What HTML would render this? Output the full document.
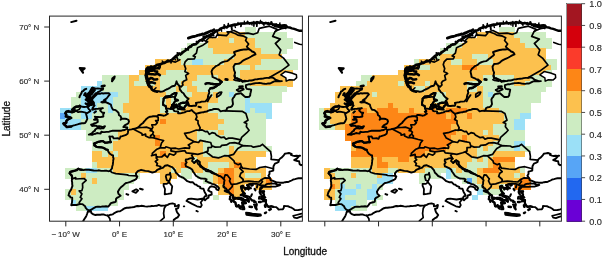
<!DOCTYPE html><html><head><meta charset="utf-8"><title>map</title><style>html,body{margin:0;padding:0;background:#fff}body{width:602px;height:258px;overflow:hidden}</style></head><body><svg width="602" height="258" viewBox="0 0 602 258" style="display:block;filter:blur(0.35px)">
<rect width="602" height="258" fill="#fff"/>
<defs><clipPath id="c1"><rect x="49.5" y="16.1" width="252.89999999999998" height="205.1"/></clipPath><clipPath id="c2"><rect x="308.5" y="16.1" width="252.89999999999998" height="205.1"/></clipPath></defs>
<g shape-rendering="crispEdges"><rect x="244.83" y="26.70" width="10.86" height="5.72" fill="#cdecc2"/>
<rect x="218.44" y="32.12" width="26.69" height="5.72" fill="#fcc14e"/>
<rect x="244.83" y="32.12" width="42.52" height="5.72" fill="#cdecc2"/>
<rect x="207.88" y="37.54" width="21.41" height="5.72" fill="#fcc14e"/>
<rect x="229.00" y="37.54" width="5.58" height="5.72" fill="#cdecc2"/>
<rect x="234.27" y="37.54" width="21.41" height="5.72" fill="#fcc14e"/>
<rect x="255.39" y="37.54" width="37.25" height="5.72" fill="#cdecc2"/>
<rect x="186.77" y="42.96" width="21.41" height="5.72" fill="#cdecc2"/>
<rect x="207.88" y="42.96" width="47.80" height="5.72" fill="#fcc14e"/>
<rect x="255.39" y="42.96" width="37.25" height="5.72" fill="#cdecc2"/>
<rect x="181.49" y="48.38" width="31.97" height="5.72" fill="#cdecc2"/>
<rect x="213.16" y="48.38" width="47.80" height="5.72" fill="#fcc14e"/>
<rect x="260.66" y="48.38" width="26.69" height="5.72" fill="#cdecc2"/>
<rect x="176.22" y="53.80" width="58.36" height="5.72" fill="#cdecc2"/>
<rect x="234.27" y="53.80" width="47.80" height="5.72" fill="#fcc14e"/>
<rect x="155.10" y="59.22" width="26.69" height="5.72" fill="#fcc14e"/>
<rect x="181.49" y="59.22" width="10.86" height="5.72" fill="#cdecc2"/>
<rect x="192.05" y="59.22" width="10.86" height="5.72" fill="#9be0f7"/>
<rect x="202.61" y="59.22" width="21.41" height="5.72" fill="#cdecc2"/>
<rect x="223.72" y="59.22" width="37.25" height="5.72" fill="#fcc14e"/>
<rect x="260.66" y="59.22" width="37.25" height="5.72" fill="#cdecc2"/>
<rect x="144.55" y="64.64" width="90.03" height="5.72" fill="#fcc14e"/>
<rect x="234.27" y="64.64" width="16.13" height="5.72" fill="#cdecc2"/>
<rect x="250.11" y="64.64" width="5.58" height="5.72" fill="#fcc14e"/>
<rect x="255.39" y="64.64" width="42.52" height="5.72" fill="#cdecc2"/>
<rect x="139.27" y="70.06" width="26.69" height="5.72" fill="#fcc14e"/>
<rect x="165.66" y="70.06" width="21.41" height="5.72" fill="#cdecc2"/>
<rect x="186.77" y="70.06" width="47.80" height="5.72" fill="#fcc14e"/>
<rect x="234.27" y="70.06" width="5.58" height="5.72" fill="#cdecc2"/>
<rect x="239.55" y="70.06" width="53.08" height="5.72" fill="#fcc14e"/>
<rect x="102.32" y="75.48" width="26.69" height="5.72" fill="#cdecc2"/>
<rect x="128.71" y="75.48" width="10.86" height="5.72" fill="#fcc14e"/>
<rect x="139.27" y="75.48" width="5.58" height="5.72" fill="#cdecc2"/>
<rect x="144.55" y="75.48" width="16.13" height="5.72" fill="#fcc14e"/>
<rect x="160.38" y="75.48" width="26.69" height="5.72" fill="#cdecc2"/>
<rect x="186.77" y="75.48" width="10.86" height="5.72" fill="#fcc14e"/>
<rect x="197.33" y="75.48" width="21.41" height="5.72" fill="#cdecc2"/>
<rect x="218.44" y="75.48" width="16.13" height="5.72" fill="#fcc14e"/>
<rect x="234.27" y="75.48" width="5.58" height="5.72" fill="#cdecc2"/>
<rect x="239.55" y="75.48" width="53.08" height="5.72" fill="#fcc14e"/>
<rect x="97.05" y="80.90" width="5.58" height="5.72" fill="#9be0f7"/>
<rect x="102.32" y="80.90" width="26.69" height="5.72" fill="#cdecc2"/>
<rect x="128.71" y="80.90" width="5.58" height="5.72" fill="#fcc14e"/>
<rect x="133.99" y="80.90" width="21.41" height="5.72" fill="#cdecc2"/>
<rect x="155.10" y="80.90" width="5.58" height="5.72" fill="#fcc14e"/>
<rect x="160.38" y="80.90" width="21.41" height="5.72" fill="#cdecc2"/>
<rect x="181.49" y="80.90" width="10.86" height="5.72" fill="#fcc14e"/>
<rect x="192.05" y="80.90" width="58.36" height="5.72" fill="#cdecc2"/>
<rect x="250.11" y="80.90" width="42.52" height="5.72" fill="#fcc14e"/>
<rect x="81.21" y="86.32" width="21.41" height="5.72" fill="#9be0f7"/>
<rect x="102.32" y="86.32" width="26.69" height="5.72" fill="#cdecc2"/>
<rect x="128.71" y="86.32" width="31.97" height="5.72" fill="#fcc14e"/>
<rect x="160.38" y="86.32" width="16.13" height="5.72" fill="#cdecc2"/>
<rect x="176.22" y="86.32" width="5.58" height="5.72" fill="#fcc14e"/>
<rect x="181.49" y="86.32" width="5.58" height="5.72" fill="#cdecc2"/>
<rect x="186.77" y="86.32" width="10.86" height="5.72" fill="#fcc14e"/>
<rect x="197.33" y="86.32" width="90.03" height="5.72" fill="#cdecc2"/>
<rect x="75.93" y="91.74" width="5.58" height="5.72" fill="#cdecc2"/>
<rect x="81.21" y="91.74" width="37.25" height="5.72" fill="#9be0f7"/>
<rect x="118.16" y="91.74" width="10.86" height="5.72" fill="#cdecc2"/>
<rect x="128.71" y="91.74" width="37.25" height="5.72" fill="#fcc14e"/>
<rect x="165.66" y="91.74" width="26.69" height="5.72" fill="#cdecc2"/>
<rect x="192.05" y="91.74" width="16.13" height="5.72" fill="#fcc14e"/>
<rect x="207.88" y="91.74" width="5.58" height="5.72" fill="#cdecc2"/>
<rect x="213.16" y="91.74" width="5.58" height="5.72" fill="#fcc14e"/>
<rect x="218.44" y="91.74" width="10.86" height="5.72" fill="#cdecc2"/>
<rect x="229.00" y="91.74" width="5.58" height="5.72" fill="#9be0f7"/>
<rect x="234.27" y="91.74" width="47.80" height="5.72" fill="#cdecc2"/>
<rect x="70.66" y="97.16" width="10.86" height="5.72" fill="#cdecc2"/>
<rect x="81.21" y="97.16" width="31.97" height="5.72" fill="#9be0f7"/>
<rect x="112.88" y="97.16" width="16.13" height="5.72" fill="#cdecc2"/>
<rect x="128.71" y="97.16" width="31.97" height="5.72" fill="#fcc14e"/>
<rect x="160.38" y="97.16" width="5.58" height="5.72" fill="#cdecc2"/>
<rect x="165.66" y="97.16" width="5.58" height="5.72" fill="#fcc14e"/>
<rect x="170.94" y="97.16" width="16.13" height="5.72" fill="#cdecc2"/>
<rect x="186.77" y="97.16" width="31.97" height="5.72" fill="#fcc14e"/>
<rect x="218.44" y="97.16" width="26.69" height="5.72" fill="#cdecc2"/>
<rect x="244.83" y="97.16" width="5.58" height="5.72" fill="#9be0f7"/>
<rect x="250.11" y="97.16" width="31.97" height="5.72" fill="#cdecc2"/>
<rect x="70.66" y="102.58" width="10.86" height="5.72" fill="#cdecc2"/>
<rect x="81.21" y="102.58" width="16.13" height="5.72" fill="#9be0f7"/>
<rect x="97.05" y="102.58" width="10.86" height="5.72" fill="#cdecc2"/>
<rect x="107.60" y="102.58" width="5.58" height="5.72" fill="#9be0f7"/>
<rect x="112.88" y="102.58" width="10.86" height="5.72" fill="#cdecc2"/>
<rect x="123.44" y="102.58" width="37.25" height="5.72" fill="#fcc14e"/>
<rect x="160.38" y="102.58" width="5.58" height="5.72" fill="#cdecc2"/>
<rect x="165.66" y="102.58" width="5.58" height="5.72" fill="#fcc14e"/>
<rect x="170.94" y="102.58" width="16.13" height="5.72" fill="#cdecc2"/>
<rect x="186.77" y="102.58" width="21.41" height="5.72" fill="#fcc14e"/>
<rect x="207.88" y="102.58" width="37.25" height="5.72" fill="#cdecc2"/>
<rect x="244.83" y="102.58" width="26.69" height="5.72" fill="#9be0f7"/>
<rect x="60.10" y="108.00" width="10.86" height="5.72" fill="#9be0f7"/>
<rect x="70.66" y="108.00" width="10.86" height="5.72" fill="#cdecc2"/>
<rect x="81.21" y="108.00" width="16.13" height="5.72" fill="#9be0f7"/>
<rect x="97.05" y="108.00" width="10.86" height="5.72" fill="#cdecc2"/>
<rect x="107.60" y="108.00" width="5.58" height="5.72" fill="#9be0f7"/>
<rect x="112.88" y="108.00" width="10.86" height="5.72" fill="#cdecc2"/>
<rect x="123.44" y="108.00" width="37.25" height="5.72" fill="#fcc14e"/>
<rect x="160.38" y="108.00" width="21.41" height="5.72" fill="#cdecc2"/>
<rect x="181.49" y="108.00" width="26.69" height="5.72" fill="#fcc14e"/>
<rect x="207.88" y="108.00" width="37.25" height="5.72" fill="#cdecc2"/>
<rect x="244.83" y="108.00" width="5.58" height="5.72" fill="#9be0f7"/>
<rect x="250.11" y="108.00" width="5.58" height="5.72" fill="#cdecc2"/>
<rect x="255.39" y="108.00" width="16.13" height="5.72" fill="#9be0f7"/>
<rect x="60.10" y="113.42" width="5.58" height="5.72" fill="#57a5f6"/>
<rect x="65.38" y="113.42" width="5.58" height="5.72" fill="#9be0f7"/>
<rect x="70.66" y="113.42" width="10.86" height="5.72" fill="#cdecc2"/>
<rect x="81.21" y="113.42" width="10.86" height="5.72" fill="#9be0f7"/>
<rect x="91.77" y="113.42" width="37.25" height="5.72" fill="#cdecc2"/>
<rect x="128.71" y="113.42" width="90.03" height="5.72" fill="#fcc14e"/>
<rect x="218.44" y="113.42" width="47.80" height="5.72" fill="#cdecc2"/>
<rect x="265.94" y="113.42" width="5.58" height="5.72" fill="#9be0f7"/>
<rect x="60.10" y="118.84" width="21.41" height="5.72" fill="#9be0f7"/>
<rect x="81.21" y="118.84" width="47.80" height="5.72" fill="#cdecc2"/>
<rect x="128.71" y="118.84" width="31.97" height="5.72" fill="#fcc14e"/>
<rect x="160.38" y="118.84" width="5.58" height="5.72" fill="#fd8616"/>
<rect x="165.66" y="118.84" width="58.36" height="5.72" fill="#fcc14e"/>
<rect x="223.72" y="118.84" width="42.52" height="5.72" fill="#cdecc2"/>
<rect x="60.10" y="124.26" width="21.41" height="5.72" fill="#9be0f7"/>
<rect x="81.21" y="124.26" width="47.80" height="5.72" fill="#cdecc2"/>
<rect x="128.71" y="124.26" width="90.03" height="5.72" fill="#fcc14e"/>
<rect x="218.44" y="124.26" width="47.80" height="5.72" fill="#cdecc2"/>
<rect x="86.49" y="129.68" width="31.97" height="5.72" fill="#cdecc2"/>
<rect x="118.16" y="129.68" width="79.47" height="5.72" fill="#fcc14e"/>
<rect x="197.33" y="129.68" width="21.41" height="5.72" fill="#cdecc2"/>
<rect x="218.44" y="129.68" width="5.58" height="5.72" fill="#fcc14e"/>
<rect x="223.72" y="129.68" width="42.52" height="5.72" fill="#cdecc2"/>
<rect x="86.49" y="135.10" width="31.97" height="5.72" fill="#cdecc2"/>
<rect x="118.16" y="135.10" width="37.25" height="5.72" fill="#fcc14e"/>
<rect x="155.10" y="135.10" width="5.58" height="5.72" fill="#fd8616"/>
<rect x="160.38" y="135.10" width="37.25" height="5.72" fill="#fcc14e"/>
<rect x="197.33" y="135.10" width="68.91" height="5.72" fill="#cdecc2"/>
<rect x="91.77" y="140.52" width="21.41" height="5.72" fill="#cdecc2"/>
<rect x="112.88" y="140.52" width="42.52" height="5.72" fill="#fcc14e"/>
<rect x="155.10" y="140.52" width="5.58" height="5.72" fill="#fd8616"/>
<rect x="160.38" y="140.52" width="42.52" height="5.72" fill="#fcc14e"/>
<rect x="202.61" y="140.52" width="63.64" height="5.72" fill="#cdecc2"/>
<rect x="91.77" y="145.94" width="21.41" height="5.72" fill="#cdecc2"/>
<rect x="112.88" y="145.94" width="90.03" height="5.72" fill="#fcc14e"/>
<rect x="202.61" y="145.94" width="26.69" height="5.72" fill="#cdecc2"/>
<rect x="229.00" y="145.94" width="5.58" height="5.72" fill="#fcc14e"/>
<rect x="234.27" y="145.94" width="37.25" height="5.72" fill="#cdecc2"/>
<rect x="91.77" y="151.36" width="10.86" height="5.72" fill="#fcc14e"/>
<rect x="102.32" y="151.36" width="5.58" height="5.72" fill="#cdecc2"/>
<rect x="107.60" y="151.36" width="5.58" height="5.72" fill="#fcc14e"/>
<rect x="112.88" y="151.36" width="5.58" height="5.72" fill="#cdecc2"/>
<rect x="118.16" y="151.36" width="42.52" height="5.72" fill="#fcc14e"/>
<rect x="160.38" y="151.36" width="5.58" height="5.72" fill="#fd8616"/>
<rect x="165.66" y="151.36" width="37.25" height="5.72" fill="#fcc14e"/>
<rect x="202.61" y="151.36" width="26.69" height="5.72" fill="#cdecc2"/>
<rect x="229.00" y="151.36" width="37.25" height="5.72" fill="#fcc14e"/>
<rect x="91.77" y="156.78" width="100.58" height="5.72" fill="#fcc14e"/>
<rect x="192.05" y="156.78" width="5.58" height="5.72" fill="#cdecc2"/>
<rect x="197.33" y="156.78" width="58.36" height="5.72" fill="#fcc14e"/>
<rect x="91.77" y="162.20" width="5.58" height="5.72" fill="#cdecc2"/>
<rect x="97.05" y="162.20" width="84.75" height="5.72" fill="#fcc14e"/>
<rect x="181.49" y="162.20" width="5.58" height="5.72" fill="#fd8616"/>
<rect x="186.77" y="162.20" width="21.41" height="5.72" fill="#fcc14e"/>
<rect x="207.88" y="162.20" width="21.41" height="5.72" fill="#cdecc2"/>
<rect x="229.00" y="162.20" width="5.58" height="5.72" fill="#fcc14e"/>
<rect x="234.27" y="162.20" width="5.58" height="5.72" fill="#fd8616"/>
<rect x="239.55" y="162.20" width="16.13" height="5.72" fill="#fcc14e"/>
<rect x="65.38" y="167.62" width="21.41" height="5.72" fill="#cdecc2"/>
<rect x="86.49" y="167.62" width="10.86" height="5.72" fill="#9be0f7"/>
<rect x="97.05" y="167.62" width="16.13" height="5.72" fill="#cdecc2"/>
<rect x="112.88" y="167.62" width="58.36" height="5.72" fill="#fcc14e"/>
<rect x="170.94" y="167.62" width="5.58" height="5.72" fill="#cdecc2"/>
<rect x="176.22" y="167.62" width="5.58" height="5.72" fill="#fcc14e"/>
<rect x="181.49" y="167.62" width="10.86" height="5.72" fill="#cdecc2"/>
<rect x="192.05" y="167.62" width="10.86" height="5.72" fill="#fcc14e"/>
<rect x="202.61" y="167.62" width="16.13" height="5.72" fill="#cdecc2"/>
<rect x="218.44" y="167.62" width="5.58" height="5.72" fill="#fcc14e"/>
<rect x="223.72" y="167.62" width="10.86" height="5.72" fill="#fd8616"/>
<rect x="234.27" y="167.62" width="31.97" height="5.72" fill="#fcc14e"/>
<rect x="65.38" y="173.04" width="16.13" height="5.72" fill="#cdecc2"/>
<rect x="81.21" y="173.04" width="5.58" height="5.72" fill="#fcc14e"/>
<rect x="86.49" y="173.04" width="53.08" height="5.72" fill="#cdecc2"/>
<rect x="160.38" y="173.04" width="16.13" height="5.72" fill="#fcc14e"/>
<rect x="181.49" y="173.04" width="10.86" height="5.72" fill="#cdecc2"/>
<rect x="197.33" y="173.04" width="16.13" height="5.72" fill="#cdecc2"/>
<rect x="213.16" y="173.04" width="5.58" height="5.72" fill="#fcc14e"/>
<rect x="218.44" y="173.04" width="16.13" height="5.72" fill="#fd8616"/>
<rect x="234.27" y="173.04" width="10.86" height="5.72" fill="#fcc14e"/>
<rect x="244.83" y="173.04" width="16.13" height="5.72" fill="#cdecc2"/>
<rect x="260.66" y="173.04" width="5.58" height="5.72" fill="#fcc14e"/>
<rect x="70.66" y="178.46" width="21.41" height="5.72" fill="#cdecc2"/>
<rect x="91.77" y="178.46" width="5.58" height="5.72" fill="#fcc14e"/>
<rect x="97.05" y="178.46" width="37.25" height="5.72" fill="#cdecc2"/>
<rect x="160.38" y="178.46" width="10.86" height="5.72" fill="#fcc14e"/>
<rect x="202.61" y="178.46" width="10.86" height="5.72" fill="#cdecc2"/>
<rect x="213.16" y="178.46" width="5.58" height="5.72" fill="#fcc14e"/>
<rect x="218.44" y="178.46" width="16.13" height="5.72" fill="#fd8616"/>
<rect x="234.27" y="178.46" width="31.97" height="5.72" fill="#fcc14e"/>
<rect x="265.94" y="178.46" width="5.58" height="5.72" fill="#fd8616"/>
<rect x="70.66" y="183.88" width="58.36" height="5.72" fill="#cdecc2"/>
<rect x="218.44" y="183.88" width="5.58" height="5.72" fill="#fcc14e"/>
<rect x="223.72" y="183.88" width="10.86" height="5.72" fill="#fd8616"/>
<rect x="234.27" y="183.88" width="10.86" height="5.72" fill="#fcc14e"/>
<rect x="255.39" y="183.88" width="16.13" height="5.72" fill="#fcc14e"/>
<rect x="65.38" y="189.30" width="5.58" height="5.72" fill="#cdecc2"/>
<rect x="70.66" y="189.30" width="5.58" height="5.72" fill="#fcc14e"/>
<rect x="75.93" y="189.30" width="47.80" height="5.72" fill="#cdecc2"/>
<rect x="218.44" y="189.30" width="10.86" height="5.72" fill="#fcc14e"/>
<rect x="229.00" y="189.30" width="5.58" height="5.72" fill="#fd8616"/>
<rect x="234.27" y="189.30" width="10.86" height="5.72" fill="#fcc14e"/>
<rect x="65.38" y="194.72" width="58.36" height="5.72" fill="#cdecc2"/>
<rect x="213.16" y="194.72" width="5.58" height="5.72" fill="#cdecc2"/>
<rect x="234.27" y="194.72" width="5.58" height="5.72" fill="#fcc14e"/>
<rect x="70.66" y="200.14" width="5.58" height="5.72" fill="#9be0f7"/>
<rect x="75.93" y="200.14" width="42.52" height="5.72" fill="#cdecc2"/>
<rect x="75.93" y="205.56" width="10.86" height="5.72" fill="#cdecc2"/>
<rect x="86.49" y="205.56" width="21.41" height="5.72" fill="#9be0f7"/><rect x="498.55" y="26.70" width="16.13" height="5.72" fill="#cdecc2"/>
<rect x="477.44" y="32.12" width="37.25" height="5.72" fill="#fcc14e"/>
<rect x="514.39" y="32.12" width="31.97" height="5.72" fill="#cdecc2"/>
<rect x="466.88" y="37.54" width="53.08" height="5.72" fill="#fcc14e"/>
<rect x="519.66" y="37.54" width="31.97" height="5.72" fill="#cdecc2"/>
<rect x="445.77" y="42.96" width="16.13" height="5.72" fill="#cdecc2"/>
<rect x="461.61" y="42.96" width="63.64" height="5.72" fill="#fcc14e"/>
<rect x="524.94" y="42.96" width="26.69" height="5.72" fill="#cdecc2"/>
<rect x="440.49" y="48.38" width="16.13" height="5.72" fill="#cdecc2"/>
<rect x="456.33" y="48.38" width="90.03" height="5.72" fill="#fcc14e"/>
<rect x="435.22" y="53.80" width="5.58" height="5.72" fill="#cdecc2"/>
<rect x="440.49" y="53.80" width="31.97" height="5.72" fill="#fcc14e"/>
<rect x="472.16" y="53.80" width="16.13" height="5.72" fill="#cdecc2"/>
<rect x="488.00" y="53.80" width="58.36" height="5.72" fill="#fcc14e"/>
<rect x="414.10" y="59.22" width="5.58" height="5.72" fill="#cdecc2"/>
<rect x="419.38" y="59.22" width="31.97" height="5.72" fill="#fcc14e"/>
<rect x="451.05" y="59.22" width="10.86" height="5.72" fill="#cdecc2"/>
<rect x="461.61" y="59.22" width="16.13" height="5.72" fill="#fcc14e"/>
<rect x="477.44" y="59.22" width="16.13" height="5.72" fill="#cdecc2"/>
<rect x="493.27" y="59.22" width="53.08" height="5.72" fill="#fcc14e"/>
<rect x="546.05" y="59.22" width="10.86" height="5.72" fill="#cdecc2"/>
<rect x="403.55" y="64.64" width="16.13" height="5.72" fill="#fcc14e"/>
<rect x="419.38" y="64.64" width="10.86" height="5.72" fill="#cdecc2"/>
<rect x="429.94" y="64.64" width="31.97" height="5.72" fill="#fcc14e"/>
<rect x="461.61" y="64.64" width="16.13" height="5.72" fill="#fd8616"/>
<rect x="477.44" y="64.64" width="74.19" height="5.72" fill="#fcc14e"/>
<rect x="551.33" y="64.64" width="5.58" height="5.72" fill="#cdecc2"/>
<rect x="398.27" y="70.06" width="148.08" height="5.72" fill="#fcc14e"/>
<rect x="546.05" y="70.06" width="5.58" height="5.72" fill="#cdecc2"/>
<rect x="361.32" y="75.48" width="10.86" height="5.72" fill="#cdecc2"/>
<rect x="371.88" y="75.48" width="111.14" height="5.72" fill="#fcc14e"/>
<rect x="482.72" y="75.48" width="31.97" height="5.72" fill="#cdecc2"/>
<rect x="514.39" y="75.48" width="16.13" height="5.72" fill="#fcc14e"/>
<rect x="530.22" y="75.48" width="21.41" height="5.72" fill="#cdecc2"/>
<rect x="356.05" y="80.90" width="10.86" height="5.72" fill="#cdecc2"/>
<rect x="366.60" y="80.90" width="31.97" height="5.72" fill="#fcc14e"/>
<rect x="398.27" y="80.90" width="5.58" height="5.72" fill="#cdecc2"/>
<rect x="403.55" y="80.90" width="21.41" height="5.72" fill="#fcc14e"/>
<rect x="424.66" y="80.90" width="5.58" height="5.72" fill="#cdecc2"/>
<rect x="429.94" y="80.90" width="37.25" height="5.72" fill="#fcc14e"/>
<rect x="466.88" y="80.90" width="47.80" height="5.72" fill="#cdecc2"/>
<rect x="514.39" y="80.90" width="10.86" height="5.72" fill="#fcc14e"/>
<rect x="524.94" y="80.90" width="26.69" height="5.72" fill="#cdecc2"/>
<rect x="340.21" y="86.32" width="74.19" height="5.72" fill="#fcc14e"/>
<rect x="414.10" y="86.32" width="10.86" height="5.72" fill="#cdecc2"/>
<rect x="424.66" y="86.32" width="42.52" height="5.72" fill="#fcc14e"/>
<rect x="466.88" y="86.32" width="10.86" height="5.72" fill="#cdecc2"/>
<rect x="477.44" y="86.32" width="5.58" height="5.72" fill="#fcc14e"/>
<rect x="482.72" y="86.32" width="63.64" height="5.72" fill="#cdecc2"/>
<rect x="334.93" y="91.74" width="37.25" height="5.72" fill="#fcc14e"/>
<rect x="371.88" y="91.74" width="5.58" height="5.72" fill="#cdecc2"/>
<rect x="377.16" y="91.74" width="58.36" height="5.72" fill="#fcc14e"/>
<rect x="435.22" y="91.74" width="10.86" height="5.72" fill="#cdecc2"/>
<rect x="445.77" y="91.74" width="37.25" height="5.72" fill="#fcc14e"/>
<rect x="482.72" y="91.74" width="5.58" height="5.72" fill="#cdecc2"/>
<rect x="488.00" y="91.74" width="5.58" height="5.72" fill="#9be0f7"/>
<rect x="493.27" y="91.74" width="47.80" height="5.72" fill="#cdecc2"/>
<rect x="334.93" y="97.16" width="100.58" height="5.72" fill="#fcc14e"/>
<rect x="435.22" y="97.16" width="10.86" height="5.72" fill="#cdecc2"/>
<rect x="445.77" y="97.16" width="37.25" height="5.72" fill="#fcc14e"/>
<rect x="482.72" y="97.16" width="58.36" height="5.72" fill="#cdecc2"/>
<rect x="329.66" y="102.58" width="58.36" height="5.72" fill="#fcc14e"/>
<rect x="387.71" y="102.58" width="5.58" height="5.72" fill="#fd8616"/>
<rect x="392.99" y="102.58" width="90.03" height="5.72" fill="#fcc14e"/>
<rect x="482.72" y="102.58" width="47.80" height="5.72" fill="#cdecc2"/>
<rect x="319.10" y="108.00" width="5.58" height="5.72" fill="#cdecc2"/>
<rect x="324.38" y="108.00" width="31.97" height="5.72" fill="#fcc14e"/>
<rect x="356.05" y="108.00" width="10.86" height="5.72" fill="#fd8616"/>
<rect x="366.60" y="108.00" width="10.86" height="5.72" fill="#fcc14e"/>
<rect x="377.16" y="108.00" width="21.41" height="5.72" fill="#fd8616"/>
<rect x="398.27" y="108.00" width="10.86" height="5.72" fill="#fcc14e"/>
<rect x="408.83" y="108.00" width="5.58" height="5.72" fill="#fd8616"/>
<rect x="414.10" y="108.00" width="10.86" height="5.72" fill="#fcc14e"/>
<rect x="424.66" y="108.00" width="10.86" height="5.72" fill="#fd8616"/>
<rect x="435.22" y="108.00" width="10.86" height="5.72" fill="#fcc14e"/>
<rect x="445.77" y="108.00" width="21.41" height="5.72" fill="#fd8616"/>
<rect x="466.88" y="108.00" width="31.97" height="5.72" fill="#fcc14e"/>
<rect x="498.55" y="108.00" width="31.97" height="5.72" fill="#cdecc2"/>
<rect x="319.10" y="113.42" width="10.86" height="5.72" fill="#cdecc2"/>
<rect x="329.66" y="113.42" width="21.41" height="5.72" fill="#fcc14e"/>
<rect x="350.77" y="113.42" width="95.30" height="5.72" fill="#fd8616"/>
<rect x="445.77" y="113.42" width="5.58" height="5.72" fill="#fcc14e"/>
<rect x="451.05" y="113.42" width="5.58" height="5.72" fill="#fd8616"/>
<rect x="456.33" y="113.42" width="10.86" height="5.72" fill="#fcc14e"/>
<rect x="466.88" y="113.42" width="5.58" height="5.72" fill="#fd8616"/>
<rect x="472.16" y="113.42" width="31.97" height="5.72" fill="#fcc14e"/>
<rect x="503.83" y="113.42" width="16.13" height="5.72" fill="#cdecc2"/>
<rect x="519.66" y="113.42" width="10.86" height="5.72" fill="#9be0f7"/>
<rect x="319.10" y="118.84" width="10.86" height="5.72" fill="#cdecc2"/>
<rect x="329.66" y="118.84" width="21.41" height="5.72" fill="#fcc14e"/>
<rect x="350.77" y="118.84" width="105.86" height="5.72" fill="#fd8616"/>
<rect x="456.33" y="118.84" width="47.80" height="5.72" fill="#fcc14e"/>
<rect x="503.83" y="118.84" width="10.86" height="5.72" fill="#cdecc2"/>
<rect x="514.39" y="118.84" width="10.86" height="5.72" fill="#9be0f7"/>
<rect x="319.10" y="124.26" width="16.13" height="5.72" fill="#cdecc2"/>
<rect x="334.93" y="124.26" width="10.86" height="5.72" fill="#fcc14e"/>
<rect x="345.49" y="124.26" width="105.86" height="5.72" fill="#fd8616"/>
<rect x="451.05" y="124.26" width="42.52" height="5.72" fill="#fcc14e"/>
<rect x="493.27" y="124.26" width="21.41" height="5.72" fill="#cdecc2"/>
<rect x="514.39" y="124.26" width="10.86" height="5.72" fill="#9be0f7"/>
<rect x="345.49" y="129.68" width="111.14" height="5.72" fill="#fd8616"/>
<rect x="456.33" y="129.68" width="26.69" height="5.72" fill="#fcc14e"/>
<rect x="482.72" y="129.68" width="5.58" height="5.72" fill="#cdecc2"/>
<rect x="488.00" y="129.68" width="5.58" height="5.72" fill="#fcc14e"/>
<rect x="493.27" y="129.68" width="31.97" height="5.72" fill="#cdecc2"/>
<rect x="345.49" y="135.10" width="105.86" height="5.72" fill="#fd8616"/>
<rect x="451.05" y="135.10" width="10.86" height="5.72" fill="#fcc14e"/>
<rect x="461.61" y="135.10" width="5.58" height="5.72" fill="#fd8616"/>
<rect x="466.88" y="135.10" width="31.97" height="5.72" fill="#fcc14e"/>
<rect x="498.55" y="135.10" width="26.69" height="5.72" fill="#cdecc2"/>
<rect x="350.77" y="140.52" width="100.58" height="5.72" fill="#fd8616"/>
<rect x="451.05" y="140.52" width="42.52" height="5.72" fill="#fcc14e"/>
<rect x="493.27" y="140.52" width="21.41" height="5.72" fill="#cdecc2"/>
<rect x="514.39" y="140.52" width="10.86" height="5.72" fill="#9be0f7"/>
<rect x="350.77" y="145.94" width="5.58" height="5.72" fill="#fcc14e"/>
<rect x="356.05" y="145.94" width="90.03" height="5.72" fill="#fd8616"/>
<rect x="445.77" y="145.94" width="31.97" height="5.72" fill="#fcc14e"/>
<rect x="477.44" y="145.94" width="5.58" height="5.72" fill="#cdecc2"/>
<rect x="482.72" y="145.94" width="5.58" height="5.72" fill="#fcc14e"/>
<rect x="488.00" y="145.94" width="26.69" height="5.72" fill="#cdecc2"/>
<rect x="514.39" y="145.94" width="5.58" height="5.72" fill="#9be0f7"/>
<rect x="519.66" y="145.94" width="10.86" height="5.72" fill="#cdecc2"/>
<rect x="350.77" y="151.36" width="74.19" height="5.72" fill="#fd8616"/>
<rect x="424.66" y="151.36" width="53.08" height="5.72" fill="#fcc14e"/>
<rect x="477.44" y="151.36" width="16.13" height="5.72" fill="#cdecc2"/>
<rect x="493.27" y="151.36" width="31.97" height="5.72" fill="#fcc14e"/>
<rect x="350.77" y="156.78" width="26.69" height="5.72" fill="#fcc14e"/>
<rect x="377.16" y="156.78" width="5.58" height="5.72" fill="#fd8616"/>
<rect x="382.44" y="156.78" width="16.13" height="5.72" fill="#fcc14e"/>
<rect x="398.27" y="156.78" width="10.86" height="5.72" fill="#fd8616"/>
<rect x="408.83" y="156.78" width="63.64" height="5.72" fill="#fcc14e"/>
<rect x="472.16" y="156.78" width="5.58" height="5.72" fill="#cdecc2"/>
<rect x="477.44" y="156.78" width="5.58" height="5.72" fill="#fcc14e"/>
<rect x="482.72" y="156.78" width="5.58" height="5.72" fill="#cdecc2"/>
<rect x="488.00" y="156.78" width="5.58" height="5.72" fill="#fcc14e"/>
<rect x="493.27" y="156.78" width="21.41" height="5.72" fill="#fd8616"/>
<rect x="350.77" y="162.20" width="26.69" height="5.72" fill="#fcc14e"/>
<rect x="377.16" y="162.20" width="10.86" height="5.72" fill="#fd8616"/>
<rect x="387.71" y="162.20" width="79.47" height="5.72" fill="#fcc14e"/>
<rect x="466.88" y="162.20" width="21.41" height="5.72" fill="#cdecc2"/>
<rect x="488.00" y="162.20" width="5.58" height="5.72" fill="#fcc14e"/>
<rect x="493.27" y="162.20" width="5.58" height="5.72" fill="#fd8616"/>
<rect x="498.55" y="162.20" width="16.13" height="5.72" fill="#fcc14e"/>
<rect x="324.38" y="167.62" width="5.58" height="5.72" fill="#fcc14e"/>
<rect x="329.66" y="167.62" width="42.52" height="5.72" fill="#cdecc2"/>
<rect x="371.88" y="167.62" width="16.13" height="5.72" fill="#fcc14e"/>
<rect x="387.71" y="167.62" width="10.86" height="5.72" fill="#cdecc2"/>
<rect x="398.27" y="167.62" width="26.69" height="5.72" fill="#fcc14e"/>
<rect x="424.66" y="167.62" width="21.41" height="5.72" fill="#cdecc2"/>
<rect x="445.77" y="167.62" width="5.58" height="5.72" fill="#9be0f7"/>
<rect x="451.05" y="167.62" width="5.58" height="5.72" fill="#cdecc2"/>
<rect x="456.33" y="167.62" width="5.58" height="5.72" fill="#fcc14e"/>
<rect x="461.61" y="167.62" width="16.13" height="5.72" fill="#cdecc2"/>
<rect x="477.44" y="167.62" width="5.58" height="5.72" fill="#fcc14e"/>
<rect x="482.72" y="167.62" width="16.13" height="5.72" fill="#fd8616"/>
<rect x="498.55" y="167.62" width="21.41" height="5.72" fill="#fcc14e"/>
<rect x="519.66" y="167.62" width="5.58" height="5.72" fill="#cdecc2"/>
<rect x="324.38" y="173.04" width="10.86" height="5.72" fill="#fcc14e"/>
<rect x="334.93" y="173.04" width="16.13" height="5.72" fill="#cdecc2"/>
<rect x="350.77" y="173.04" width="5.58" height="5.72" fill="#fcc14e"/>
<rect x="356.05" y="173.04" width="21.41" height="5.72" fill="#cdecc2"/>
<rect x="377.16" y="173.04" width="5.58" height="5.72" fill="#fcc14e"/>
<rect x="382.44" y="173.04" width="10.86" height="5.72" fill="#9be0f7"/>
<rect x="419.38" y="173.04" width="21.41" height="5.72" fill="#cdecc2"/>
<rect x="445.77" y="173.04" width="5.58" height="5.72" fill="#9be0f7"/>
<rect x="451.05" y="173.04" width="26.69" height="5.72" fill="#cdecc2"/>
<rect x="477.44" y="173.04" width="37.25" height="5.72" fill="#fcc14e"/>
<rect x="514.39" y="173.04" width="5.58" height="5.72" fill="#cdecc2"/>
<rect x="519.66" y="173.04" width="5.58" height="5.72" fill="#fcc14e"/>
<rect x="329.66" y="178.46" width="10.86" height="5.72" fill="#fcc14e"/>
<rect x="340.21" y="178.46" width="37.25" height="5.72" fill="#cdecc2"/>
<rect x="377.16" y="178.46" width="16.13" height="5.72" fill="#9be0f7"/>
<rect x="419.38" y="178.46" width="5.58" height="5.72" fill="#cdecc2"/>
<rect x="461.61" y="178.46" width="5.58" height="5.72" fill="#cdecc2"/>
<rect x="466.88" y="178.46" width="5.58" height="5.72" fill="#57a5f6"/>
<rect x="472.16" y="178.46" width="5.58" height="5.72" fill="#cdecc2"/>
<rect x="477.44" y="178.46" width="42.52" height="5.72" fill="#fcc14e"/>
<rect x="519.66" y="178.46" width="10.86" height="5.72" fill="#fd8616"/>
<rect x="329.66" y="183.88" width="5.58" height="5.72" fill="#fd8616"/>
<rect x="334.93" y="183.88" width="5.58" height="5.72" fill="#fcc14e"/>
<rect x="340.21" y="183.88" width="5.58" height="5.72" fill="#9be0f7"/>
<rect x="345.49" y="183.88" width="10.86" height="5.72" fill="#cdecc2"/>
<rect x="356.05" y="183.88" width="5.58" height="5.72" fill="#9be0f7"/>
<rect x="361.32" y="183.88" width="10.86" height="5.72" fill="#cdecc2"/>
<rect x="371.88" y="183.88" width="5.58" height="5.72" fill="#9be0f7"/>
<rect x="377.16" y="183.88" width="5.58" height="5.72" fill="#cdecc2"/>
<rect x="477.44" y="183.88" width="5.58" height="5.72" fill="#cdecc2"/>
<rect x="482.72" y="183.88" width="16.13" height="5.72" fill="#fcc14e"/>
<rect x="498.55" y="183.88" width="5.58" height="5.72" fill="#cdecc2"/>
<rect x="514.39" y="183.88" width="16.13" height="5.72" fill="#fd8616"/>
<rect x="324.38" y="189.30" width="10.86" height="5.72" fill="#fcc14e"/>
<rect x="334.93" y="189.30" width="5.58" height="5.72" fill="#cdecc2"/>
<rect x="340.21" y="189.30" width="16.13" height="5.72" fill="#9be0f7"/>
<rect x="356.05" y="189.30" width="10.86" height="5.72" fill="#cdecc2"/>
<rect x="366.60" y="189.30" width="10.86" height="5.72" fill="#9be0f7"/>
<rect x="477.44" y="189.30" width="5.58" height="5.72" fill="#9be0f7"/>
<rect x="482.72" y="189.30" width="21.41" height="5.72" fill="#cdecc2"/>
<rect x="324.38" y="194.72" width="10.86" height="5.72" fill="#fcc14e"/>
<rect x="334.93" y="194.72" width="5.58" height="5.72" fill="#cdecc2"/>
<rect x="340.21" y="194.72" width="5.58" height="5.72" fill="#9be0f7"/>
<rect x="345.49" y="194.72" width="21.41" height="5.72" fill="#cdecc2"/>
<rect x="366.60" y="194.72" width="10.86" height="5.72" fill="#9be0f7"/>
<rect x="377.16" y="194.72" width="5.58" height="5.72" fill="#cdecc2"/>
<rect x="472.16" y="194.72" width="5.58" height="5.72" fill="#9be0f7"/>
<rect x="334.93" y="200.14" width="5.58" height="5.72" fill="#cdecc2"/>
<rect x="340.21" y="200.14" width="16.13" height="5.72" fill="#9be0f7"/>
<rect x="356.05" y="200.14" width="10.86" height="5.72" fill="#cdecc2"/>
<rect x="371.88" y="200.14" width="5.58" height="5.72" fill="#cdecc2"/>
<rect x="334.93" y="205.56" width="16.13" height="5.72" fill="#9be0f7"/>
<rect x="350.77" y="205.56" width="16.13" height="5.72" fill="#cdecc2"/></g>
<defs><g id="cst" fill="none" stroke="#000" stroke-linejoin="round" stroke-linecap="round">
<path stroke-width="1.221986109848373" d="M147.4,80.5 145.9,81.2"/>
<path stroke-width="1.2292847960105282" d="M158.4,64.6 158.2,67.8"/>
<path stroke-width="1.271507570697413" d="M155.1,65.9 154.7,65.4"/>
<path stroke-width="1.2735969052222456" d="M179.6,54.2 180.6,55.2"/>
<path stroke-width="1.2900257027038964" d="M200.2,40.2 202.9,41.5"/>
<path stroke-width="1.2991564726496614" d="M147.5,69.4 149.1,70.4"/>
<path stroke-width="1.308532343767037" d="M271.4,23.8 270.8,21.8"/>
<path stroke-width="1.314365822692881" d="M237.8,24.3 238.0,22.3"/>
<path stroke-width="1.3192905815591587" d="M255.1,22.6 255.3,23.4"/>
<path stroke-width="1.322138452145154" d="M190.6,46.4 189.8,45.8"/>
<path stroke-width="1.3272743237572158" d="M147.5,82.4 149.2,81.5"/>
<path stroke-width="1.3290765549617645" d="M244.7,23.5 244.3,21.1"/>
<path stroke-width="1.348031450740937" d="M261.3,22.3 260.3,20.3"/>
<path stroke-width="1.3535640864642935" d="M212.6,33.0 213.9,35.9"/>
<path stroke-width="1.3647900111491522" d="M208.9,35.2 212.3,37.5"/>
<path stroke-width="1.365546963968056" d="M223.0,27.8 224.3,28.7"/>
<path stroke-width="1.3670081986193754" d="M193.8,44.1 194.1,44.9"/>
<path stroke-width="1.4" d="M271.7,21.8 272.2,24.3 M157.2,91.6 155.5,90.6 153.6,90.1 151.8,89.5 150.6,88.2 149.6,86.8 148.6,84.6 147.5,82.4 147.4,80.5 147.0,78.6 146.4,77.0 145.9,75.4 146.2,73.8 146.4,72.1 147.5,69.4 149.0,68.8 150.2,67.7 151.8,67.3 153.5,66.7 155.1,65.9 156.6,65.1 158.4,64.6 160.2,64.0 162.0,63.5 164.2,62.7 166.3,61.9 167.9,61.1 169.5,60.8 171.2,60.2 172.6,58.7 174.4,57.5 176.3,56.2 178.1,54.8 179.6,54.2 181.0,53.4 182.4,52.7 184.3,51.3 186.2,50.0 187.7,48.8 188.9,47.3 190.6,46.4 192.1,45.1 193.8,44.1 195.8,43.6 197.5,42.7 198.9,41.5 200.2,40.2 202.0,39.1 204.0,38.5 205.5,37.4 207.2,36.4 208.9,35.2 210.7,34.3 212.6,33.0 214.7,32.1 216.8,31.2 219.0,30.2 221.1,29.2 223.0,27.8 224.7,27.1 226.5,26.9 228.1,26.2 229.8,25.9 231.3,25.3 233.0,25.2 234.6,25.1 236.2,24.6 237.8,24.3 239.6,24.3 241.3,23.9 243.0,23.5 244.7,23.5 246.3,23.1 248.0,23.0 249.7,23.1 251.4,23.1 253.0,22.7 255.1,22.6 257.1,22.1 259.2,22.2 261.3,22.3 263.5,22.8 265.8,22.9 267.7,23.3 269.7,23.8 271.4,23.8 273.0,24.0 274.7,24.2 276.3,24.7 278.0,24.8 279.6,25.0 281.3,25.4 282.9,25.6 284.5,26.0 286.2,26.2"/>
<path stroke-width="1.4040282254563115" d="M202.0,39.1 205.8,41.3"/>
<path stroke-width="1.420786645959343" d="M234.6,25.1 235.4,27.4"/>
<path stroke-width="1.4236746848620077" d="M274.7,24.2 274.5,26.6"/>
<path stroke-width="1.4379188999385302" d="M251.4,23.1 252.1,25.0"/>
<path stroke-width="1.4437784120534662" d="M164.2,62.7 162.2,61.0"/>
<path stroke-width="1.4490584380038494" d="M187.7,48.8 188.4,50.1"/>
<path stroke-width="1.4935462167786837" d="M150.6,88.2 151.9,86.2"/>
<path stroke-width="1.4968437702560993" d="M279.6,25.0 279.9,23.0"/>
<path stroke-width="1.5" d="M196.9,161.9 198.0,164.1 199.3,165.3 200.2,166.8 202.0,167.8 203.4,169.3 204.9,169.8 206.0,171.2 207.7,171.4 210.1,171.8 212.0,173.3 213.6,173.9 215.2,174.4"/>
<path stroke-width="1.5" fill="#fff" d="M286.2,81.1 285.9,77.8 280.8,74.8 285.1,71.6 291.6,73.0 296.4,74.8 296.7,77.6 294.2,80.0 289.4,79.7 286.2,81.1"/>
<path stroke-width="1.5112676946794152" d="M146.4,72.1 150.1,73.8"/>
<path stroke-width="1.5226425828882217" d="M145.9,75.4 145.5,75.8"/>
<path stroke-width="1.530450511662207" d="M167.9,61.1 167.9,62.3"/>
<path stroke-width="1.5317782428172138" d="M174.4,57.5 175.4,59.9"/>
<path stroke-width="1.5345749004059641" d="M267.7,23.3 268.3,22.5"/>
<path stroke-width="1.5446637358606312" d="M221.1,29.2 221.6,31.1"/>
<path stroke-width="1.5660652563399002" d="M153.6,90.1 156.0,87.8"/>
<path stroke-width="1.5873525672776148" d="M228.1,26.2 228.3,23.6"/>
<path stroke-width="1.6" d="M286.2,25.1 284.3,25.3 282.5,25.6 280.8,26.4 279.0,26.8 277.2,26.4 275.4,26.7 277.1,27.0 278.7,27.1 280.3,27.8 282.0,27.7 283.7,28.2 285.4,28.1 M171.7,61.3 175.4,62.1 179.8,59.7 M202.9,37.0 208.2,35.4 213.1,35.4 M253.9,21.6 253.9,26.2 M305.0,45.1 299.6,44.3 294.8,42.4 M163.6,98.7 165.3,97.9 167.2,97.8 169.0,97.3 171.0,97.3 172.9,96.8 174.9,97.0 M177.1,107.3 177.6,108.9"/>
<path stroke-width="1.6028174669710205" d="M233.0,25.2 232.6,24.5"/>
<path stroke-width="1.63765321434478" d="M282.9,25.6 283.4,26.7"/>
<path stroke-width="1.6827894183755854" d="M263.5,22.8 263.9,25.1"/>
<path stroke-width="1.7" d="M107.7,215.5 109.9,218.8 110.4,224.2 M165.8,205.5 164.2,208.5 163.6,213.3 164.2,217.7 160.4,220.9 159.9,224.2 M80.3,107.6 79.2,109.5 76.0,110.8 78.2,112.2 80.8,111.6 83.5,112.2 85.7,112.7 86.8,113.0 M179.2,85.7 181.1,86.8 183.0,84.9 182.4,83.0 183.5,81.3 186.7,79.7 185.7,75.4 188.6,73.5 184.9,71.6 185.7,68.6 184.3,64.6 185.1,61.9 187.8,59.2 194.3,58.9 195.3,56.7 193.2,55.9 196.4,53.2 197.5,47.8 202.3,45.6 207.7,41.8 206.1,40.5 209.3,37.5 215.8,37.5 217.1,34.8 226.5,35.6 228.7,33.2 227.1,31.8 230.0,31.8 M230.0,31.8 235.6,33.7 237.8,35.1 243.7,36.2 246.7,37.8 245.6,40.5 248.6,44.0 246.7,46.7 249.4,49.4 M230.0,31.8 233.9,30.5 239.9,33.6 248.0,33.2 253.4,34.3 257.7,32.7 259.3,28.3 264.7,27.2 269.5,26.2 277.0,29.4 274.9,31.8 M274.9,31.8 277.0,30.5 281.3,28.6 285.4,27.8 M274.9,31.8 272.7,36.4 280.3,39.1 275.4,43.5 280.8,50.0 279.2,54.8 283.5,58.1 288.9,65.1 280.8,71.1 269.0,77.8 M166.0,108.4 170.1,108.9 172.8,108.9 M158.2,117.3 158.2,120.6 155.6,120.6 157.4,122.7 155.6,124.6 151.8,124.9 152.9,127.3 151.8,128.9 151.8,130.8 M137.8,127.6 142.4,127.5 146.4,127.1 151.0,128.7 150.2,130.6 151.8,130.8 M151.8,130.8 153.4,132.2 152.6,134.1 M152.6,134.1 150.5,135.7 150.7,137.3 M152.6,134.1 154.5,136.0 153.7,137.9 M150.7,137.3 153.7,137.9 M133.3,128.9 136.5,130.8 141.9,133.5 142.1,135.2 145.6,134.1 145.6,136.0 148.8,137.6 150.7,137.3 M153.7,137.9 159.3,139.5 163.6,140.5 161.5,143.0 160.1,147.9 M160.1,147.9 165.2,147.9 165.8,146.8 170.6,148.2 171.2,148.4 M160.1,147.9 156.9,149.2 152.3,153.3 152.3,155.2 151.5,155.7 156.1,154.4 156.4,157.4 157.4,157.0 M157.4,157.0 156.1,157.9 157.7,159.8 155.3,161.4 157.4,163.6 156.6,165.5 160.7,166.5 159.9,168.6 M157.4,157.0 161.7,157.0 165.0,154.1 165.0,155.2 167.4,157.4 169.5,153.8 173.8,155.2 175.7,153.6 175.8,151.9 M171.2,148.4 170.9,150.9 175.8,151.9 M171.2,148.4 175.7,148.2 178.7,149.0 185.1,147.9 189.4,148.4 189.7,146.5 188.3,144.9 192.1,142.7 193.9,141.6 M193.9,141.6 187.3,138.1 184.6,133.3 189.2,132.7 196.4,130.0 199.1,130.3 M199.1,130.3 200.2,127.9 198.0,123.5 198.0,120.8 195.6,119.5 196.9,117.0 195.9,113.8 M199.1,130.3 201.8,129.8 205.6,131.7 207.4,131.4 209.3,134.4 212.0,132.7 215.0,133.3 216.3,135.0 220.9,137.6 M193.9,141.6 198.6,142.5 200.2,140.3 206.1,141.7 210.7,142.5 M210.7,142.5 211.5,144.9 211.7,145.7 M211.7,145.7 211.5,147.3 208.0,147.6 208.0,151.1 206.1,151.9 M206.1,151.9 203.7,152.8 197.8,154.4 193.2,153.7 M193.2,153.7 186.2,152.8 184.9,150.7 179.5,151.4 175.8,151.9 M193.2,153.7 191.6,155.5 192.7,156.8 193.7,158.7 M206.1,151.9 208.5,153.8 M208.5,153.8 212.5,156.8 218.4,157.9 221.1,157.0 M211.7,145.7 215.2,147.1 220.6,146.8 221.7,145.4 226.5,144.9 229.7,143.0 234.6,142.7 238.6,143.6 M220.9,137.6 224.1,137.1 226.0,139.2 228.7,138.1 232.4,138.1 240.8,139.9 M240.8,139.9 238.6,143.6 M240.8,139.9 241.6,137.3 246.9,132.7 249.1,130.3 246.4,126.8 M246.4,126.8 246.7,123.5 244.2,122.5 248.0,120.3 245.9,113.5 M245.9,113.5 242.1,111.3 M242.1,111.3 225.2,110.8 M238.6,143.6 242.6,145.7 M242.6,145.7 251.2,146.0 253.4,147.2 260.4,145.8 262.5,144.4 M262.5,144.4 266.3,147.9 270.6,151.7 271.4,156.5 271.1,159.4 M271.1,159.4 278.9,160.1 M242.6,145.7 237.8,148.4 235.9,151.1 233.5,154.4 228.4,155.9 M228.4,155.9 224.4,155.7 221.1,157.0 M227.4,175.2 225.2,174.9 223.7,179.0 M227.4,175.2 230.3,178.9 M230.3,178.9 229.5,180.9 231.1,184.1 232.4,184.4 M232.4,184.4 232.2,186.6 230.5,188.5 228.7,190.1 227.1,190.6 M232.4,184.4 236.7,183.9 242.9,181.7 M239.7,176.4 243.2,179.5 242.9,181.7 M239.7,176.4 240.8,173.3 243.2,171.7 239.9,168.4 241.3,166.3 M228.4,155.9 234.0,160.9 234.6,163.0 238.3,164.7 240.5,163.6 241.3,166.3 M241.3,166.3 242.6,168.2 249.6,169.0 256.1,169.4 259.8,167.5 265.8,166.7 273.3,168.7 M242.9,181.7 248.6,181.2 253.9,181.7 258.8,182.0 261.2,179.8 M261.2,179.8 264.7,177.9 270.1,178.2 M261.2,179.8 262.5,181.7 259.6,184.9 M72.0,179.0 75.7,177.6 75.5,179.0 84.1,178.5 86.2,180.3 82.5,183.6 82.7,187.6 81.9,190.6 79.2,190.9 81.9,193.9 80.3,197.4 81.9,198.7 79.2,202.5 79.8,204.1 M110.0,170.9 112.0,172.5 115.8,173.6 123.3,174.4 127.3,174.9 128.7,175.5 136.5,175.9"/>
<path stroke-width="1.7134443610047314" d="M204.0,38.5 203.8,37.3"/>
<path stroke-width="1.713903862574353" d="M182.4,52.7 182.4,51.5"/>
<path stroke-width="1.718728113573815" d="M216.8,31.2 217.8,34.0"/>
<path stroke-width="1.7918355695277686" d="M171.2,60.2 171.0,62.9"/>
<path stroke-width="1.8" d="M170.1,172.8 170.9,177.1 169.0,181.4 166.8,180.3 165.8,176.6 166.3,174.9 169.5,174.4 170.1,172.8 M169.0,182.2 172.2,186.3 171.2,193.3 167.9,193.9 164.7,194.4 165.0,189.0 163.6,185.8 163.6,183.9 166.8,183.9 169.0,182.2 M203.7,198.5 200.7,202.5 201.8,205.0 200.7,207.1 196.9,206.3 192.1,203.9 186.5,200.9 188.1,199.0 191.3,198.7 197.5,199.5 203.7,198.5 M305.0,212.8 300.7,213.9 296.4,215.0 293.2,215.8 294.2,217.7 296.9,218.2 300.1,216.9 302.8,216.0 305.0,215.0 M132.4,191.4 136.2,189.3 138.1,190.6 135.9,192.8 132.4,191.4 M216.8,97.0 218.4,96.2 220.6,94.6 221.7,92.2 219.5,92.4 216.8,94.3 216.8,97.0 M207.7,101.4 209.3,98.1 211.5,95.1 M179.2,104.1 180.9,103.3 182.7,102.7 185.0,102.5 187.3,102.2 187.3,104.3 185.1,106.2 184.1,108.1 181.9,107.4 179.8,106.8 179.2,104.1 M172.2,105.1 176.5,104.6 177.6,106.8 174.4,107.6 172.2,105.1 M236.7,90.0 239.4,88.4 243.2,88.4 243.7,89.5 238.9,91.6 236.7,90.0 M196.4,210.9 197.8,211.5 M183.8,206.3 184.3,206.4 M194.3,163.0 195.9,161.1 197.2,160.3 199.6,161.9 199.6,164.1 201.2,166.3 203.1,167.7 205.0,169.0 208.0,170.1 209.6,171.1 211.5,171.7 214.1,173.3 216.8,174.7 219.0,176.0 M234.0,79.7 235.6,80.4 237.3,80.5 239.9,81.1"/>
<path stroke-width="1.8101842988132597" d="M241.3,23.9 240.9,26.3"/>
<path stroke-width="1.815997861582887" d="M257.1,22.1 256.8,26.2"/>
<path stroke-width="1.8222482628282575" d="M207.2,36.4 206.8,35.3"/>
<path stroke-width="1.8433548760950271" d="M148.6,84.6 150.3,82.0"/>
<path stroke-width="1.8517354210433976" d="M151.8,67.3 151.0,66.0"/>
<path stroke-width="1.853041016496189" d="M276.3,24.7 276.2,24.1"/>
<path stroke-width="1.8567448208912798" d="M176.3,56.2 177.7,59.2"/>
<path stroke-width="1.8732700468446533" d="M147.0,78.6 148.4,78.8"/>
<path stroke-width="1.9" d="M179.2,85.7 178.1,84.6 177.1,83.1 176.5,81.3 176.0,83.5 174.9,85.7 173.3,86.0 171.7,86.5 169.9,87.8 167.9,88.9 166.4,89.5 165.0,90.2 163.6,91.1 162.0,91.6 160.4,91.8 158.8,91.1 157.2,91.6 M179.2,85.7 179.7,87.5 179.8,89.5 180.9,90.7 181.9,92.2 183.5,93.2 185.1,95.9 186.7,97.6 188.6,98.8 186.7,100.8 187.8,102.2 188.9,104.6 188.6,105.7 191.6,106.0 193.7,105.8 195.9,105.7 196.4,104.6 195.9,103.0 198.6,102.4 200.2,102.2 201.7,101.6 203.4,101.6 205.6,101.4 206.6,100.0 207.7,98.7 208.0,97.0 208.2,95.4 209.3,92.7 208.8,90.5 210.4,88.4 212.2,87.6 214.1,87.6 216.3,86.2 218.0,85.2 219.5,84.0 221.7,81.9 220.4,80.7 219.0,79.7 217.3,79.3 215.8,78.3 214.1,77.7 212.5,77.0 212.4,75.4 212.0,73.8 211.5,71.6 212.2,69.9 213.1,68.4 214.5,67.4 215.8,66.2 217.4,65.5 219.0,64.6 220.2,63.4 221.7,62.5 223.3,61.9 225.1,61.4 227.0,61.1 228.7,60.2 229.8,59.0 231.2,58.1 232.4,57.0 233.8,56.0 235.1,54.8 234.0,52.1 235.6,51.5 237.2,51.0 238.9,50.5 240.6,50.0 242.4,49.7 244.2,49.4 246.0,49.5 247.7,49.3 249.4,49.4 M249.4,49.4 250.8,50.3 252.1,51.5 253.7,52.0 255.0,53.2 255.5,54.3 254.1,55.0 252.6,55.6 251.2,56.5 249.5,57.5 247.7,58.4 245.9,59.2 243.9,60.1 242.1,61.3 240.9,62.5 239.4,63.5 237.3,63.9 235.1,64.0 233.5,66.7 233.8,68.4 234.0,70.0 235.1,72.7 234.7,74.3 234.6,75.9 235.1,78.1 237.1,78.4 238.9,79.2 240.8,80.3 242.6,81.6 244.2,81.2 245.9,81.1 247.8,81.0 249.6,80.5 251.5,80.5 253.4,80.0 255.3,79.4 257.3,79.2 259.3,78.9 261.1,78.7 262.9,78.6 264.7,78.1 266.8,77.9 269.0,77.8 270.8,77.5 272.7,77.6 274.2,78.5 275.4,79.7 277.6,80.4 279.7,81.1 281.9,81.1 279.7,81.3 277.6,81.4 275.4,81.1 273.7,81.6 272.2,82.4 270.1,83.5 268.2,83.4 266.5,83.9 264.7,83.8 262.9,83.6 261.1,83.1 259.3,83.0 257.5,83.1 255.7,83.1 253.9,83.5 252.1,83.9 250.4,84.3 248.6,84.3 245.9,85.1 245.9,87.3 246.9,88.9 249.1,89.2 251.2,89.7 250.7,92.2 250.3,93.8 250.2,95.4 249.1,96.8 247.2,97.0 245.3,97.0 243.8,95.8 242.4,94.5 241.0,93.2 239.4,93.6 237.8,93.8 236.2,94.1 234.9,95.2 234.2,96.9 233.0,98.1 232.4,99.7 232.7,101.9 233.0,104.1 231.9,106.2 230.4,107.1 228.6,107.2 227.1,108.1 226.5,110.0 224.9,110.8 222.7,110.9 220.6,111.4 218.4,109.2 215.8,108.9 213.9,109.0 212.2,109.7 210.4,110.0 208.4,110.6 206.6,111.6 205.0,111.7 203.4,112.3 201.8,112.4 200.0,112.8 198.2,113.2 196.4,113.8 194.8,113.0 193.2,111.6 191.6,110.0 189.4,111.1 187.8,111.1 186.2,111.4 184.6,112.4 182.4,112.8 180.3,113.3 178.1,113.3 178.1,111.4 176.2,111.4 174.4,111.1 173.3,109.5 172.8,108.9 170.6,108.7 171.7,106.8 172.2,105.1 173.3,104.1 174.9,101.4 176.5,100.7 178.1,100.3 176.5,99.9 174.9,99.2 174.9,97.0 176.0,94.9 176.5,93.0 175.0,93.6 173.3,93.8 171.9,94.8 170.6,95.9 169.0,96.3 167.4,96.1 165.8,96.5 163.6,98.7 163.6,100.6 163.1,102.4 163.1,104.9 165.8,106.2 166.0,108.4 167.4,111.1 165.8,111.6 167.9,113.8 165.2,115.4 163.1,115.7 161.5,115.2 159.9,115.0 158.2,114.9 157.2,116.8 156.6,116.2 155.0,116.1 153.4,116.2 151.8,116.5 150.1,116.7 148.6,117.3 146.4,118.9 145.2,120.3 144.0,121.6 143.0,123.1 141.6,124.1 140.1,125.3 138.9,126.8 137.8,127.6 135.6,128.5 133.3,128.9 131.6,129.4 129.8,129.6 128.2,130.0 127.9,132.7 127.6,133.8 125.5,135.2 123.8,135.6 122.3,136.1 120.6,136.5 120.1,137.6 119.5,138.7 117.6,138.3 115.6,138.4 113.6,138.4 112.6,136.5 111.0,136.6 109.3,136.5 110.0,138.4 110.2,140.4 110.9,142.2 108.8,142.2 106.9,142.5 105.0,142.7 102.9,141.1 101.2,141.2 99.7,141.8 98.0,141.9 96.1,142.9 94.0,143.6 95.4,145.7 94.3,145.4 96.4,146.8 98.0,147.0 99.6,147.4 101.3,147.3 103.0,147.7 104.5,148.4 106.1,149.5 107.7,149.8 108.3,151.7 109.9,153.8 111.4,154.8 113.1,155.5 113.1,157.1 113.6,158.7 113.2,160.3 113.1,161.9 112.8,164.7 112.2,166.5 112.0,168.4 110.1,170.9 108.5,171.2 106.8,170.8 105.1,170.7 103.4,170.9 101.2,170.9 99.1,170.3 97.3,170.6 95.4,170.6 93.7,170.5 92.1,170.2 90.5,170.0 88.9,169.8 87.2,169.8 85.4,169.6 83.7,170.1 81.9,169.8 80.0,169.5 78.2,168.7 76.7,169.9 74.9,170.6 73.4,171.3 71.8,171.8 70.1,172.0 69.6,173.3 71.7,175.5 72.2,177.6 72.0,179.0 71.8,180.8 72.2,182.5 72.2,184.1 72.5,185.8 71.7,187.9 71.1,189.6 70.1,191.0 69.3,192.5 68.5,195.5 70.1,196.3 70.4,197.4 72.2,197.7 72.2,200.1 72.0,202.5 71.2,205.2 73.0,205.0 74.8,204.9 76.5,205.0 78.1,204.5 79.8,204.1 82.5,204.1 83.8,205.3 85.1,206.3 85.7,207.9 87.3,209.6 89.5,210.6 90.8,209.8 92.5,208.9 94.2,207.8 95.9,206.9 97.5,206.7 99.1,206.8 100.7,206.9 102.5,206.4 104.3,206.5 106.1,206.3 108.3,206.6 109.7,204.9 110.9,203.1 113.1,202.5 115.2,202.0 115.8,201.7 116.1,198.7 117.4,197.6 119.0,196.8 120.6,195.8 118.5,193.9 117.9,191.7 119.5,189.0 121.0,187.2 122.8,185.8 124.3,184.3 126.0,183.0 127.8,182.6 129.6,182.1 131.4,181.4 133.0,180.6 134.7,180.0 136.2,179.0 137.3,176.6 136.2,175.7 135.9,173.3 137.8,171.1 139.5,170.5 141.1,169.8 143.2,170.3 145.3,170.9 148.3,171.1 150.3,171.8 152.3,172.5 153.9,172.1 155.6,171.7 157.2,169.8 159.9,168.7 162.6,167.9 163.8,166.9 165.0,165.7 167.4,165.2 169.0,165.8 170.6,166.6 172.2,167.1 173.6,168.6 174.9,170.1 176.0,172.8 177.7,174.3 179.2,176.0 181.1,176.8 183.0,177.6 185.4,179.5 187.3,181.2 190.0,182.2 192.7,182.2 194.8,184.4 196.4,184.7 197.5,185.8 200.2,186.8 200.2,188.2 201.8,188.6 203.4,188.7 204.5,191.7 206.1,194.4 206.6,195.8 204.7,196.3 203.7,199.3 205.0,200.3 206.6,198.7 208.5,197.7 208.8,195.5 211.7,194.7 211.5,192.2 209.8,191.3 208.2,190.4 208.8,188.5 210.4,186.6 212.0,186.3 213.9,186.9 215.8,187.6 216.3,189.3 218.3,190.1 219.0,188.2 217.8,186.7 216.3,185.5 214.2,184.4 212.0,183.9 210.4,183.0 208.7,182.5 207.2,181.6 205.6,181.2 206.6,179.3 205.0,178.7 203.4,178.6 200.7,178.5 199.0,177.7 197.5,176.7 195.9,175.7 194.3,173.3 193.0,171.5 192.1,169.5 190.6,168.4 188.9,167.6 187.4,166.9 185.9,166.3 185.4,164.1 186.7,162.5 185.7,160.9 185.9,159.5 188.0,159.2 190.0,158.4 192.7,157.9 193.7,158.7 192.7,159.2 192.1,161.1 194.3,163.0 195.9,161.1 197.2,160.3 199.6,161.9 199.6,164.1 201.2,166.3 203.0,167.8 205.0,169.0 208.0,170.1 209.7,171.0 211.5,171.7 214.1,173.3 216.8,174.7 219.0,176.0 220.1,176.0 222.2,177.6 223.7,179.0 224.6,180.3 224.1,182.0 224.1,184.1 223.3,185.5 224.4,187.1 223.3,186.8 224.7,187.9 226.2,188.7 227.1,190.6 228.1,191.4 229.7,193.1 231.1,194.4 233.0,195.5 233.0,197.9 234.7,198.0 236.5,198.0 238.2,197.7 239.9,197.9 241.5,198.4 243.2,198.7 242.9,200.2 239.9,199.0 238.1,198.9 236.5,198.2 234.3,199.0 233.0,200.6 234.0,201.7 235.4,202.5 235.9,205.2 236.2,206.3 237.5,206.3 238.6,205.1 239.7,207.9 240.4,208.5 241.0,206.3 243.2,207.9 244.2,208.2 243.4,206.3 242.6,204.5 242.1,202.5 244.2,203.3 245.9,203.1 244.0,201.7 243.2,200.2 244.8,200.3 246.4,200.1 248.8,201.7 248.6,199.0 246.4,197.1 244.2,196.3 242.6,195.2 240.8,195.1 243.2,194.1 244.8,193.6 243.7,192.8 242.6,191.4 241.6,189.0 241.0,186.6 242.9,185.8 242.6,187.1 245.1,187.9 245.3,189.3 246.9,187.9 248.6,189.3 248.6,187.1 250.7,188.2 248.6,186.8 247.2,185.2 248.9,184.3 250.7,183.9 252.7,183.6 254.7,183.9 256.8,183.9 258.8,184.4 259.6,184.9 261.6,185.4 263.6,185.5 262.1,186.6 260.4,187.4 260.4,188.7 261.5,187.4 263.1,186.6 264.6,185.8 265.8,184.6 267.4,183.9 269.3,183.8 271.1,183.3 273.3,183.6 275.4,183.6 276.0,182.2 274.2,181.4 272.5,180.7 270.6,180.3 270.1,178.2 268.4,175.7 269.5,173.9 269.5,171.7 271.4,171.2 273.3,170.6 273.3,168.7 273.5,166.3 274.9,163.6 276.8,162.9 278.6,161.9 278.9,160.1 280.2,158.5 281.9,157.4 283.5,155.7 284.8,153.8 286.8,153.4 288.9,153.0 291.6,153.8 291.0,154.9 292.9,155.6 294.8,156.0 296.6,155.7 298.4,156.0 300.1,155.7 298.5,156.6 297.3,158.1 295.8,159.1 294.2,160.1 295.8,160.5 297.4,161.0 299.1,161.1 299.6,164.1 301.2,165.2 303.1,164.6 305.0,164.4 M275.4,183.6 277.6,184.9 280.3,184.9 278.7,185.7 277.1,186.2 275.4,186.6 273.6,186.6 271.8,186.6 270.1,186.8 268.2,186.9 266.3,186.8 264.7,186.9 263.1,186.8 261.4,188.2 260.1,189.3 259.8,191.7 262.0,191.5 264.1,191.4 263.1,192.8 264.1,195.0 263.6,196.3 261.4,196.3 262.0,197.9 263.6,197.6 265.2,197.4 263.1,198.0 260.9,198.5 263.6,199.8 266.0,200.1 265.8,203.1 266.8,205.0 268.4,206.9 271.4,206.3 273.3,206.9 276.0,207.1 277.5,208.2 278.6,209.6 280.8,209.4 282.9,209.3 283.8,207.8 284.0,206.0 286.2,206.1 288.3,206.3 289.9,207.1 291.6,207.7 293.3,208.7 294.8,210.1 296.4,210.1 298.0,210.1 299.6,209.8 301.4,209.3 303.2,208.6 305.0,207.9 M276.0,182.2 277.9,182.4 279.9,182.7 281.9,182.8 283.5,182.7 285.1,182.2 286.7,182.0 288.3,182.0 290.0,181.2 291.6,180.5 293.2,179.5 295.0,179.1 296.7,178.6 298.5,178.2 300.1,178.3 301.8,178.2 303.4,178.3 305.0,178.5 M78.7,223.6 80.1,222.8 81.6,222.2 83.0,221.5 83.8,220.0 84.7,218.5 85.7,217.1 86.6,215.3 87.3,213.3 87.8,211.7 90.8,211.2 91.6,213.3 93.4,214.4 95.4,215.0 97.0,214.7 98.6,214.7 100.2,214.7 101.8,214.5 103.4,214.4 105.5,215.1 107.7,215.5 109.3,215.2 110.9,214.7 112.6,214.4 114.4,213.1 116.3,212.0 118.2,211.4 120.1,211.2 121.7,210.2 123.3,209.1 124.9,208.2 126.7,207.8 128.4,207.7 130.2,207.5 131.9,207.4 134.0,207.0 135.9,206.3 137.6,206.0 139.4,206.2 141.1,205.8 143.0,206.0 145.0,206.4 147.0,206.6 148.6,206.4 150.2,206.4 151.8,206.0 153.4,206.1 155.0,205.9 156.6,205.8 158.8,204.9 161.2,205.8 163.5,205.6 165.8,205.5 167.7,204.8 169.5,203.9 172.5,203.4 174.9,204.1 174.9,206.3 177.0,205.8 178.9,205.0 178.6,206.6 178.1,208.2 176.0,209.0 176.8,211.7 177.9,213.4 179.2,215.0 177.6,217.4 175.6,218.4 173.8,219.8 173.6,222.0 173.3,224.2 M88.9,134.6 90.5,134.6 92.1,134.9 93.7,134.1 95.4,133.8 97.0,133.0 98.8,133.4 100.7,133.5 101.3,131.7 103.0,132.1 104.7,132.1 106.4,131.9 109.1,131.7 110.8,131.1 112.6,130.8 115.2,130.8 117.1,130.6 119.0,130.7 120.9,130.8 122.7,130.2 124.7,130.0 127.1,128.7 127.3,127.4 125.3,127.1 123.3,127.1 124.7,125.4 126.5,124.4 128.2,123.5 129.0,121.4 128.4,119.8 126.7,119.0 124.9,118.8 122.2,118.8 120.6,119.8 121.4,118.1 120.4,116.0 119.0,115.2 118.5,112.7 116.3,110.6 114.8,109.9 113.1,109.7 112.0,107.9 111.3,106.3 110.9,104.6 108.8,103.5 106.1,102.4 104.2,102.2 102.3,102.5 101.3,102.2 103.4,101.4 105.6,100.9 104.0,100.0 106.4,98.7 108.3,96.2 109.9,94.3 108.8,93.2 107.1,93.3 105.3,93.1 103.6,93.5 101.8,93.2 100.0,93.8 98.0,93.8 98.0,92.4 98.0,91.9 99.8,91.3 101.2,90.1 102.9,89.5 103.2,88.1 101.3,88.4 99.5,88.6 97.7,88.5 95.9,88.6 94.3,88.3 92.7,88.3 92.1,90.3 91.1,92.2 88.4,93.8 88.9,95.4 89.5,97.0 88.1,98.4 90.0,99.7 90.3,100.3 89.5,102.2 89.2,104.3 88.4,106.2 89.4,104.9 90.5,103.8 93.2,102.7 93.5,104.6 94.6,105.4 92.7,107.9 92.1,109.7 94.0,109.3 95.9,108.9 98.0,108.7 100.2,108.4 102.9,108.1 101.3,108.7 100.2,110.6 102.3,112.7 104.2,112.7 103.2,114.6 103.4,116.5 102.3,116.8 100.2,117.1 98.0,117.0 96.4,116.9 94.8,116.8 96.4,118.1 94.0,119.8 95.8,119.8 97.5,119.2 97.8,121.9 96.1,122.8 94.3,123.5 92.7,124.1 91.1,124.6 92.1,126.0 94.3,125.6 96.4,125.7 97.0,126.5 99.1,126.2 100.8,126.5 102.3,127.1 105.0,126.2 103.4,128.4 101.8,128.3 100.2,128.7 98.6,128.1 97.0,128.4 95.1,129.5 95.1,130.6 93.6,131.4 92.4,132.7 90.8,133.9 88.9,134.6 M79.8,105.8 82.5,106.8 84.1,107.0 85.7,106.9 87.3,106.8 88.9,109.2 89.7,109.7 90.3,111.1 87.8,112.7 86.0,113.8 86.8,116.5 87.3,118.9 86.2,121.4 85.1,123.0 83.5,123.3 81.9,123.3 79.7,123.7 77.6,124.4 74.9,125.2 73.0,125.7 71.2,126.5 69.0,126.6 66.9,127.1 65.3,125.4 64.2,124.6 63.4,123.5 66.3,122.7 66.3,121.1 67.6,119.9 69.0,118.9 71.2,117.9 69.4,117.2 67.7,116.6 65.8,116.5 66.3,114.6 65.3,113.3 66.3,111.6 68.2,111.8 70.1,111.6 72.0,111.7 73.9,111.6 75.5,110.6 73.8,110.4 72.2,109.7 74.1,107.9 76.4,107.2 78.7,106.5 79.8,105.8"/>
<path stroke-width="1.906310185999989" d="M197.5,42.7 196.5,41.6"/>
<path stroke-width="1.9450764340833497" d="M224.7,27.1 224.2,25.0"/>
<path stroke-width="1.947356301654094" d="M231.3,25.3 231.9,29.4"/>
<path stroke-width="1.953587665947699" d="M149.0,68.8 151.8,71.1"/>
<path stroke-width="1.9595648436970348" d="M178.1,54.8 177.4,53.0"/>
<path stroke-width="1.965224920825326" d="M248.0,23.0 247.5,21.6"/>
<path stroke-width="1.967409923850295" d="M286.2,26.2 285.8,28.4"/>
<path stroke-width="1.9790777668798596" d="M160.2,64.0 160.0,67.1"/>
<path stroke-width="1.996775970907369" d="M269.7,23.8 269.0,24.6"/>
<path stroke-width="1.9975540123587434" d="M186.2,50.0 185.6,48.7"/>
<path stroke-width="2.0" d="M86.2,88.9 84.6,89.5 83.4,90.8 81.9,91.6 81.4,93.2 79.8,95.9 79.5,97.3 M85.7,93.2 84.1,95.1 87.8,95.9 M71.2,22.1 76.5,20.7 M94.3,112.7 95.9,111.4 M246.1,212.8 246.4,214.7 252.3,215.5 257.7,216.0 260.9,215.5 260.6,214.4 257.7,214.2 252.3,213.8 249.1,213.1 246.1,212.8 M140.0,188.7 142.7,189.5 M126.5,194.1 128.2,194.7 M243.2,194.4 245.9,195.8 249.1,196.6 251.5,199.8 M170.6,108.7 171.7,106.8 172.2,105.1 173.3,104.1 174.9,101.4 176.5,100.7 178.1,100.3 176.6,99.5 174.9,99.2 174.9,97.0 176.0,94.9 176.5,93.0 174.8,93.0 173.3,93.8 171.8,94.6 170.6,95.9 169.0,96.0 167.4,96.7 165.8,96.5 163.6,98.7 163.5,100.6 163.1,102.4 163.1,104.9 165.8,106.2 166.0,108.4 M183.0,108.1 184.6,109.5 M172.2,107.9 173.3,108.4"/>
<path stroke-width="2.0" fill="#000" d="M112.0,81.3 112.3,78.6 114.7,76.5 114.2,78.4 112.0,81.3"/>
<path stroke-width="2.026278467639441" d="M251.1,196.2 251.9,194.3"/>
<path stroke-width="2.0361194834747858" d="M256.9,187.6 257.4,185.5"/>
<path stroke-width="2.057863616413613" d="M244.3,209.3 242.1,209.3"/>
<path stroke-width="2.0676717858765548" d="M229.9,196.7 231.1,195.4"/>
<path stroke-width="2.1303673622064867" d="M255.5,205.1 254.0,204.8"/>
<path stroke-width="2.136994428920316" d="M256.3,207.2 254.8,206.5"/>
<path stroke-width="2.2" d="M85.7,99.7 88.4,100.3 M85.7,103.5 86.8,104.3 M178.7,108.9 183.5,109.5 M198.6,106.8 200.7,107.3 M94.8,90.0 93.2,92.2 91.6,94.3 M110.9,142.2 108.8,142.2 106.9,142.7 105.0,142.7 102.9,141.1 101.2,141.1 99.6,141.5 98.0,141.9 96.0,142.7 94.0,143.6 95.4,145.7 94.3,145.4 96.4,146.8 98.0,147.2 99.7,147.1 101.3,147.3 103.0,147.7 104.5,148.4 106.1,149.5 107.7,149.8 M81.9,169.8 79.9,169.6 78.2,168.7 76.8,170.1 74.9,170.6 73.3,170.8 71.6,171.2 70.1,172.0 69.6,173.3 71.7,175.5 72.2,177.6 72.0,179.0 M227.1,190.6 228.1,191.4 229.7,193.1 231.1,194.4 233.0,195.5 233.0,197.9 234.7,197.7 236.5,198.0 238.2,198.2 239.9,197.9 241.6,198.2 243.2,198.7 242.9,200.2 239.9,199.0 238.2,198.8 236.5,198.2 234.3,199.0 233.0,200.6 234.0,201.7 235.4,202.5 235.9,205.2 236.2,206.3 237.5,206.3 238.6,205.1 239.7,207.9 240.4,208.5 241.0,206.3 243.2,207.9 244.2,208.2 243.4,206.3 242.7,204.5 242.1,202.5 244.2,203.3 245.9,203.1 244.0,201.7 243.2,200.2 244.8,200.2 246.4,200.1 248.8,201.7 248.6,199.0 246.4,197.1 244.2,196.3 242.6,195.2 240.8,195.1 243.2,194.1 244.8,193.6 243.7,192.8 242.6,191.4 241.6,189.0 241.0,186.6 242.9,185.8 242.6,187.1 245.1,187.9 245.3,189.3 246.9,187.9 248.6,189.3 248.6,187.1 250.7,188.2 248.6,186.8 247.2,185.2 249.1,184.8 250.7,183.9 M261.4,188.2 260.1,189.3 259.8,191.7 262.0,191.4 264.1,191.4 263.1,192.8 264.1,195.0 263.6,196.3 261.4,196.3 262.0,197.9 263.7,198.0 265.2,197.4 263.2,198.3 260.9,198.5 263.6,199.8 266.0,200.1 265.8,203.1 266.8,205.0 268.4,206.9 271.4,206.3 273.3,206.9 M234.6,75.9 235.1,78.1 237.1,78.4 238.9,79.2 241.0,80.0 242.6,81.6 244.2,80.9 245.9,81.1 M179.2,104.1 180.9,103.1 182.7,102.7 185.0,102.8 187.3,102.2 187.3,104.3 185.1,106.2 184.1,108.1 181.7,108.0 179.8,106.8 179.2,104.1 M172.2,105.1 174.4,105.2 176.5,104.6 177.6,106.8 175.9,106.8 174.4,107.6 173.6,106.1 172.2,105.1"/>
<path stroke-width="2.2" fill="#000" d="M79.8,68.1 84.6,68.4 82.5,70.3 80.3,68.4 83.0,72.7 79.8,68.1"/>
<path stroke-width="2.251530490997692" d="M262.5,201.3 264.7,201.0"/>
<path stroke-width="2.251869271575034" d="M255.4,190.2 254.6,188.9"/>
<path stroke-width="2.2774595120497194" d="M254.4,200.9 251.8,200.3"/>
<path stroke-width="2.3004700713348116" d="M256.7,209.3 255.5,207.7"/>
<path stroke-width="2.3356125218337755" d="M264.9,213.1 266.1,212.5"/>
<path stroke-width="2.3622213961282967" d="M256.5,205.7 256.7,204.2"/>
<path stroke-width="2.367025122143989" d="M259.1,198.5 259.5,196.9"/>
<path stroke-width="2.4" d="M286.2,26.2 287.8,27.3 289.7,27.5 291.9,28.3 294.2,28.9 296.9,29.9 299.6,30.8 301.4,30.7 303.3,30.7 305.0,31.6 M239.4,86.8 242.6,86.5 M210.4,88.4 212.3,88.3 214.1,87.6 216.3,86.2 217.7,84.8 219.5,84.0 221.7,81.9 220.1,81.1 219.0,79.7"/>
<path stroke-width="2.404477404585035" d="M251.9,207.0 249.5,206.7"/>
<path stroke-width="2.4154880370758454" d="M251.4,185.5 252.7,185.0"/>
<path stroke-width="2.438076406614225" d="M260.8,194.1 259.9,192.6"/>
<path stroke-width="2.4462318532547513" d="M254.3,202.3 255.7,202.2"/>
<path stroke-width="2.4857368286324553" d="M260.7,202.0 259.0,202.0"/>
<path stroke-width="2.5" d="M148.0,68.1 149.9,67.6 151.9,68.3 153.7,67.4 155.4,68.6 157.4,68.1 159.3,68.4 M146.4,71.3 148.3,72.0 150.0,70.6 151.8,70.7 153.7,70.2 155.4,71.5 157.2,71.6 M146.4,74.8 148.0,73.8 149.7,74.0 151.4,74.2 153.1,74.2 154.8,74.6 156.6,74.0 158.3,74.1 159.9,75.1 M147.5,78.9 149.2,79.3 150.7,78.1 152.3,78.3 153.8,79.4 155.4,79.6 157.2,79.2 M148.6,83.0 150.1,82.4 151.8,82.3 153.4,82.7 155.0,83.2 M71.2,126.5 69.0,126.7 66.9,127.1 65.3,125.4 64.2,124.6 63.4,123.5 66.3,122.7 66.3,121.1 67.3,119.6 69.0,118.9 71.2,117.9 69.4,117.2 67.6,116.7 65.8,116.5 66.3,114.6 65.3,113.3 66.3,111.6 68.2,111.1 70.1,111.6 72.0,112.3 73.9,111.6 75.5,110.6 73.9,109.9 72.2,109.7 74.1,107.9 76.2,106.5 78.7,106.5 79.8,105.8"/>
<path stroke-width="2.545242539357561" d="M229.9,199.2 230.2,197.7"/>
<path stroke-width="2.577649405378974" d="M231.3,201.6 231.4,200.2"/>
<path stroke-width="2.6" d="M157.2,91.6 155.2,91.3 153.4,90.6 151.8,89.5 151.4,87.5 149.6,86.8 148.6,84.6 147.5,82.4 147.2,80.5 147.0,78.6 147.0,76.8 145.9,75.4 146.1,73.8 146.4,72.1 147.5,69.4 149.0,68.9 150.1,67.4 151.8,67.3 153.5,66.8 155.3,66.4 156.6,65.1 158.4,64.6 160.3,64.4 162.0,63.5 164.3,63.0 166.3,61.9 167.7,60.6 169.7,61.2 171.2,60.2 172.9,59.0 174.4,57.5 176.0,55.9 178.1,54.8 179.2,53.4 181.3,54.0 182.4,52.7 184.3,51.3 186.2,50.0 187.8,48.9 188.9,47.3 190.9,46.7 192.1,45.1 194.1,44.6 196.0,44.2 197.5,42.7 198.7,41.3 200.2,40.2 202.3,39.9 204.0,38.5 205.5,37.4 207.2,36.4 209.3,36.0 210.7,34.3 213.0,33.8 214.7,32.1 216.5,30.5 219.0,30.2 220.7,28.4 223.0,27.8 224.6,26.8 226.7,27.5 228.1,26.2 229.7,25.7 231.4,25.7 233.0,25.2 234.5,24.5 236.2,24.6 237.8,24.3 239.5,23.8 241.2,23.5 243.0,23.5 244.7,23.5 246.4,23.3 248.0,23.0 249.7,23.6 251.4,23.1 253.0,22.7 255.2,23.2 257.1,22.1 259.2,22.9 261.3,22.3 263.4,23.5 265.8,22.9 267.6,23.6 269.7,23.8 271.4,23.4 272.9,24.9 274.5,25.3 276.3,24.7 277.9,25.6 279.6,25.3 281.2,25.8 282.9,25.6 284.6,25.4 286.2,26.2 M101.8,86.2 104.5,85.7 M205.6,83.8 207.1,83.3 208.8,83.2 210.4,83.6 212.0,83.8 213.9,84.2 215.8,84.3 217.7,84.4 219.5,84.0"/>
<path stroke-width="2.6209238118452207" d="M269.4,209.9 270.7,209.2"/>
<path stroke-width="2.75212078765676" d="M227.4,191.7 225.1,190.7"/>
<path stroke-width="2.786449530150889" d="M265.4,206.7 265.1,205.3"/>
<path stroke-width="2.8" d="M188.3,38.1 190.5,37.4 192.7,36.7 194.3,36.5 195.9,36.0 197.5,35.4 199.1,35.0 200.8,34.7 202.3,34.0 204.2,34.3 205.6,33.1 207.2,32.7 209.0,31.7 210.9,31.0 212.7,30.7 214.1,29.7 M225.7,79.4 227.3,79.7 M85.1,93.8 86.2,95.9 87.3,97.6 86.8,99.7 87.8,100.8"/>
<path stroke-width="3.0" d="M92.7,88.3 92.1,90.3 91.1,92.2 88.4,93.8 88.9,95.4 89.5,97.0 88.1,98.4 90.0,99.7 90.3,100.3 89.5,102.2 88.1,104.0 88.4,106.2 88.9,104.5 90.5,103.8 93.2,102.7"/>
<path stroke-width="3.2" d="M148.0,67.8 146.7,69.2 146.4,71.1 147.0,73.3 146.2,75.4 146.4,77.3 147.0,79.2 148.2,80.9 148.0,83.0 148.5,84.7 149.6,86.2"/>
<path stroke-width="3.4" d="M96.4,93.8 94.3,95.9 92.1,98.1 91.1,100.3 92.7,102.4 93.2,104.1"/>
<path stroke-width="4.2" d="M92.7,88.9 91.1,91.6 89.5,94.3 88.9,97.0 89.5,99.7 90.0,102.4 91.1,104.1"/>
</g></defs>
<g clip-path="url(#c1)"><use href="#cst"/></g>
<g clip-path="url(#c2)"><use href="#cst" x="259.0" y="0"/></g>
<g fill="none" stroke="#262626" stroke-width="1">
<rect x="49.5" y="16.1" width="252.89999999999998" height="205.1"/>
<line x1="65.80" y1="221.2" x2="65.80" y2="226.39999999999998"/>
<line x1="119.55" y1="221.2" x2="119.55" y2="226.39999999999998"/>
<line x1="173.30" y1="221.2" x2="173.30" y2="226.39999999999998"/>
<line x1="227.05" y1="221.2" x2="227.05" y2="226.39999999999998"/>
<line x1="280.80" y1="221.2" x2="280.80" y2="226.39999999999998"/>
<rect x="308.5" y="16.1" width="252.89999999999998" height="205.1"/>
<line x1="324.80" y1="221.2" x2="324.80" y2="226.39999999999998"/>
<line x1="378.55" y1="221.2" x2="378.55" y2="226.39999999999998"/>
<line x1="432.30" y1="221.2" x2="432.30" y2="226.39999999999998"/>
<line x1="486.05" y1="221.2" x2="486.05" y2="226.39999999999998"/>
<line x1="539.80" y1="221.2" x2="539.80" y2="226.39999999999998"/>
<line x1="44.2" y1="27.00" x2="49.5" y2="27.00"/>
<line x1="44.2" y1="81.10" x2="49.5" y2="81.10"/>
<line x1="44.2" y1="135.20" x2="49.5" y2="135.20"/>
<line x1="44.2" y1="189.30" x2="49.5" y2="189.30"/>
</g>
<g font-family="'Liberation Sans', Arial, sans-serif" fill="#2a2a2a" stroke="#2a2a2a" stroke-width="0.15">
<text x="39.3" y="29.9" font-size="8" text-anchor="end">70° N</text>
<text x="39.3" y="84.0" font-size="8" text-anchor="end">60° N</text>
<text x="39.3" y="138.1" font-size="8" text-anchor="end">50° N</text>
<text x="39.3" y="192.2" font-size="8" text-anchor="end">40° N</text>
<text x="65.8" y="236.7" font-size="8" text-anchor="middle">− 10° W</text>
<text x="119.5" y="236.7" font-size="8" text-anchor="middle">0° E</text>
<text x="173.3" y="236.7" font-size="8" text-anchor="middle">10° E</text>
<text x="227.1" y="236.7" font-size="8" text-anchor="middle">20° E</text>
<text x="280.8" y="236.7" font-size="8" text-anchor="middle">30° E</text>
<text x="305.1" y="254.9" font-size="10" text-anchor="middle" fill="#111" stroke="#111" stroke-width="0.3">Longitude</text>
<text transform="translate(10.3,118.8) rotate(-90)" font-size="10" text-anchor="middle" fill="#111" stroke="#111" stroke-width="0.3">Latitude</text>
<rect x="566.5" y="199.45" width="15.0" height="22.05" fill="#6a00d6" stroke="none" shape-rendering="crispEdges"/>
<rect x="566.5" y="177.70" width="15.0" height="22.05" fill="#2268f0" stroke="none" shape-rendering="crispEdges"/>
<rect x="566.5" y="155.95" width="15.0" height="22.05" fill="#57a5f6" stroke="none" shape-rendering="crispEdges"/>
<rect x="566.5" y="134.20" width="15.0" height="22.05" fill="#9be0f7" stroke="none" shape-rendering="crispEdges"/>
<rect x="566.5" y="112.45" width="15.0" height="22.05" fill="#cdecc2" stroke="none" shape-rendering="crispEdges"/>
<rect x="566.5" y="90.70" width="15.0" height="22.05" fill="#fcc14e" stroke="none" shape-rendering="crispEdges"/>
<rect x="566.5" y="68.95" width="15.0" height="22.05" fill="#fd8616" stroke="none" shape-rendering="crispEdges"/>
<rect x="566.5" y="47.20" width="15.0" height="22.05" fill="#fb3b2b" stroke="none" shape-rendering="crispEdges"/>
<rect x="566.5" y="25.45" width="15.0" height="22.05" fill="#d4000c" stroke="none" shape-rendering="crispEdges"/>
<rect x="566.5" y="3.70" width="15.0" height="22.05" fill="#a31621" stroke="none" shape-rendering="crispEdges"/>
<rect x="566.5" y="3.7" width="15.0" height="217.5" fill="none" stroke="#333" stroke-width="0.5"/>
<line x1="581.5" y1="221.20" x2="585.1" y2="221.20" stroke="#3a3a3a" stroke-width="0.9"/>
<text x="589.2" y="224.9" font-size="9.2">0.0</text>
<line x1="581.5" y1="199.45" x2="585.1" y2="199.45" stroke="#3a3a3a" stroke-width="0.9"/>
<text x="589.2" y="203.1" font-size="9.2">0.1</text>
<line x1="581.5" y1="177.70" x2="585.1" y2="177.70" stroke="#3a3a3a" stroke-width="0.9"/>
<text x="589.2" y="181.4" font-size="9.2">0.2</text>
<line x1="581.5" y1="155.95" x2="585.1" y2="155.95" stroke="#3a3a3a" stroke-width="0.9"/>
<text x="589.2" y="159.6" font-size="9.2">0.3</text>
<line x1="581.5" y1="134.20" x2="585.1" y2="134.20" stroke="#3a3a3a" stroke-width="0.9"/>
<text x="589.2" y="137.9" font-size="9.2">0.4</text>
<line x1="581.5" y1="112.45" x2="585.1" y2="112.45" stroke="#3a3a3a" stroke-width="0.9"/>
<text x="589.2" y="116.1" font-size="9.2">0.5</text>
<line x1="581.5" y1="90.70" x2="585.1" y2="90.70" stroke="#3a3a3a" stroke-width="0.9"/>
<text x="589.2" y="94.4" font-size="9.2">0.6</text>
<line x1="581.5" y1="68.95" x2="585.1" y2="68.95" stroke="#3a3a3a" stroke-width="0.9"/>
<text x="589.2" y="72.6" font-size="9.2">0.7</text>
<line x1="581.5" y1="47.20" x2="585.1" y2="47.20" stroke="#3a3a3a" stroke-width="0.9"/>
<text x="589.2" y="50.9" font-size="9.2">0.8</text>
<line x1="581.5" y1="25.45" x2="585.1" y2="25.45" stroke="#3a3a3a" stroke-width="0.9"/>
<text x="589.2" y="29.1" font-size="9.2">0.9</text>
<line x1="581.5" y1="3.70" x2="585.1" y2="3.70" stroke="#3a3a3a" stroke-width="0.9"/>
<text x="589.2" y="7.4" font-size="9.2">1.0</text>
</g></svg></body></html>
